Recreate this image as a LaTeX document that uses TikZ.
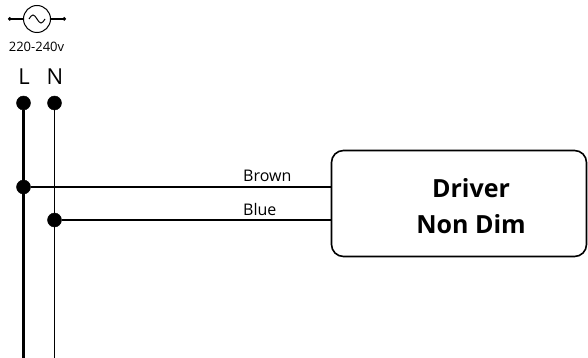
\documentclass[tikz,border=0pt]{standalone}
\usepackage{fontspec}
\setmainfont{Open Sans}
\usetikzlibrary{arrows.meta}

\begin{document}
\begin{tikzpicture}[x=1pt,y=-1pt]
  \useasboundingbox (0,0) rectangle (588,358);
      \node (ac) at (37,19) [draw, circle, line width=1pt, minimum size=27pt, inner sep=0pt] {};
      \coordinate (acl) at (8,19);
      \coordinate (acr) at (66,19);
      \draw[line width=1.2pt, -{Circle[length=3.5pt]}] (ac.west) to (acl);
      \draw[line width=1.2pt, -{Circle[length=3.5pt]}] (ac.east) to (acr);
      \draw[line width=1pt] (29,19) sin (33,15) cos (37,19) sin (41,23) cos (45,19);
      \node (volt) at (36.5,47) {\fontsize{13}{15}\selectfont 220-240v};
      \node (lbl) at (24,77) {\fontsize{22}{24}\selectfont L};
      \node (nbl) at (55,77) {\fontsize{22}{24}\selectfont N};
      \foreach \n/\x/\y in {l0/23.5/103, n0/54.5/103, l1/23.5/187, n1/54.5/220} {
        \node (\n) at (\x,\y) [draw, fill, circle, inner sep=0pt, minimum size=14pt] {};
      }
      \coordinate (lend) at (23.5,358);
      \coordinate (nend) at (54.5,358);
      \draw[line width=2.6pt] (l0) to (lend);
      \draw[line width=1.8pt] (n0) to (nend);
      \node (drv) at (459,203.5) [draw, rounded corners=12pt, line width=1.6pt, minimum width=255pt, minimum height=106pt] {};
      \node (drvtxt) at (471,206) [align=center, font=\fontsize{25}{36}\selectfont\bfseries] {Driver\\Non Dim};
      \draw[line width=2.6pt] (l1) to (l1 -| drv.west);
      \draw[line width=2.6pt] (n1) to (n1 -| drv.west);
      \node (brown) at (243,182) [anchor=base west, inner sep=0pt, font=\fontsize{16}{18}\selectfont] {Brown};
      \node (blue) at (243,215) [anchor=base west, inner sep=0pt, font=\fontsize{16}{18}\selectfont] {Blue};
\end{tikzpicture}
\end{document}
